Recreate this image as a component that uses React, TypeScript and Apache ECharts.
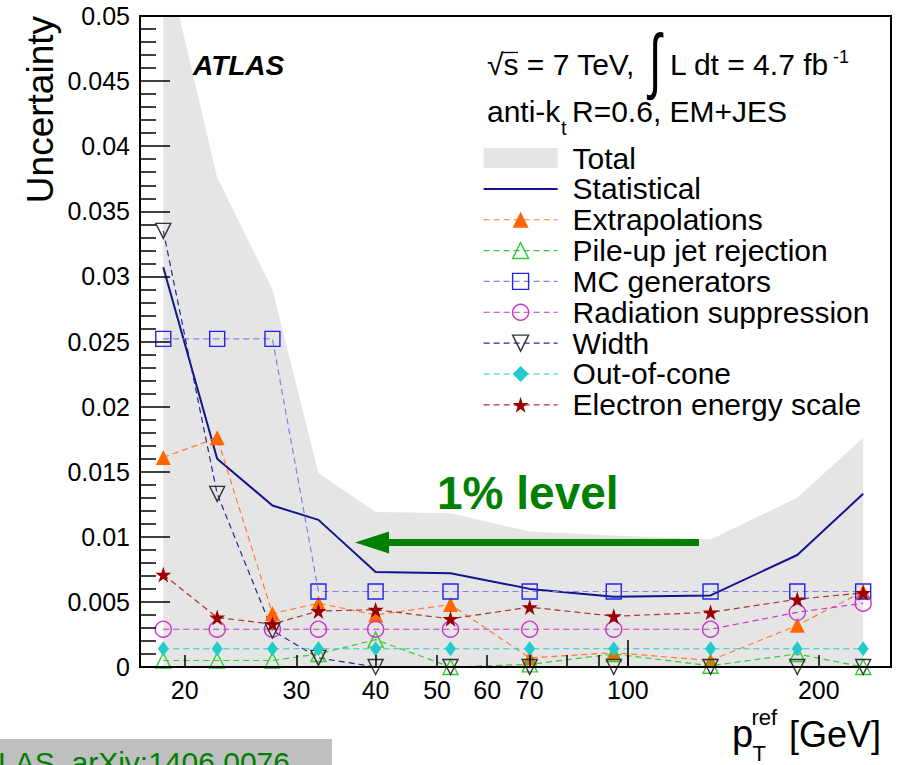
import React, { useEffect, useRef } from 'react';
import * as echarts from 'echarts';

const FONT = '"Liberation Sans", Arial, Helvetica, sans-serif';

// Reference-pT bin centres [GeV]
const ptBinCentres = [18.5, 22.5, 27.5, 32.5, 40, 52.5, 70, 95, 135, 185, 235];

// Uncertainty components (relative)
const totalUnc = [0.0552, 0.0376, 0.029, 0.0149, 0.0119, 0.0118, 0.0104, 0.0101, 0.0098, 0.013, 0.0176];
const statisticalUnc = [0.0307, 0.016, 0.0124, 0.0113, 0.0073, 0.0072, 0.006, 0.0054, 0.0055, 0.0086, 0.0133];
const extrapolationsUnc = [0.0161, 0.0176, 0.0041, 0.0049, 0.004, 0.0048, 0.0007, 0.0011, 0.0005, 0.0032, 0.0058];
const pileUpUnc = [0.0005, 0.0005, 0.0005, 0.001, 0.0021, 0.0, 0.0002, 0.001, 0.0001, 0.001, 0.0];
const mcGeneratorsUnc = [0.0252, 0.0252, 0.0252, 0.0058, 0.0058, 0.0058, 0.0058, 0.0058, 0.0058, 0.0058, 0.0058];
const radiationUnc = [0.0029, 0.0029, 0.0029, 0.0029, 0.0029, 0.0029, 0.0029, 0.0029, 0.0029, 0.0042, 0.0049];
const widthUnc = [0.0335, 0.0133, 0.0028, 0.0007, 0.0, 0.0, 0.0, 0.0, 0.0, 0.0, 0.0];
const outOfConeUnc = [0.0014, 0.0014, 0.0014, 0.0014, 0.0014, 0.0014, 0.0014, 0.0014, 0.0014, 0.0014, 0.0014];
const electronScaleUnc = [0.0071, 0.0038, 0.0033, 0.0043, 0.0044, 0.0037, 0.0046, 0.0039, 0.0042, 0.0052, 0.0057];

// Axis ticks / labels
const xTickValues = [20, 30, 40, 50, 60, 70, 80, 90, 100, 200];
const xLabelValues = [20, 30, 40, 50, 60, 70, 100, 200];
const xLongTickValues = [100];

const STAR = 'path://M50,2 L61.2,36.5 L97.6,36.5 L68.2,57.9 L79.4,92.5 L50,71.1 L20.6,92.5 L31.8,57.9 L2.4,36.5 L38.8,36.5 Z';

const toPoints = (vals: number[]) => ptBinCentres.map((x, i) => [x, vals[i]]);

function markerSeries(
  name: string,
  vals: number[],
  color: string,
  lineColor: string,
  symbol: string,
  size: number | number[],
  filled: boolean,
  rotate = 0,
) {
  return {
    name,
    type: 'line',
    data: toPoints(vals),
    symbol,
    symbolSize: size,
    symbolRotate: rotate,
    showAllSymbol: true,
    lineStyle: { color: lineColor, width: 1.2, type: [6, 4] },
    itemStyle: filled
      ? { color, borderWidth: 0 }
      : { color: 'transparent', borderColor: color, borderWidth: 1.4 },
    emphasis: { disabled: true },
    z: 3,
  };
}

const option: any = {
  animation: false,
  backgroundColor: '#fff',
  textStyle: { fontFamily: FONT },
  grid: {
    left: 140,
    right: 12,
    top: 16,
    bottom: 98,
    show: true,
    borderColor: '#000',
    borderWidth: 2,
    backgroundColor: 'transparent',
    z: 5,
  },
  legend: {
    orient: 'vertical',
    left: 483,
    top: 142.6,
    padding: 0,
    itemWidth: 74,
    itemHeight: 20,
    itemGap: 0,
    selectedMode: false,
    textStyle: { fontSize: 30, color: '#000', fontFamily: FONT, lineHeight: 30.85, padding: [0, 0, 0, 10] },
    lineStyle: { width: 1.2 },
    itemStyle: { borderWidth: 1.4 },
    data: [
      { name: 'Total', icon: 'rect', itemStyle: { borderWidth: 0 } },
      { name: 'Statistical', icon: 'path://M0,0H74V2H0Z', itemStyle: { borderWidth: 0 } },
      { name: 'Extrapolations' },
      { name: 'Pile-up jet rejection' },
      { name: 'MC generators' },
      { name: 'Radiation suppression' },
      { name: 'Width' },
      { name: 'Out-of-cone' },
      { name: 'Electron energy scale' },
    ],
  },
  xAxis: [
    {
      type: 'log',
      logBase: 10,
      min: 17,
      max: 260,
      z: 5,
      axisLine: { lineStyle: { color: '#000', width: 2 } },
      axisTick: { inside: true, length: 12, customValues: xTickValues, lineStyle: { color: '#000', width: 1.5 } },
      axisLabel: { customValues: xLabelValues, fontSize: 25, color: '#000', fontFamily: FONT, margin: 10 },
      minorTick: { show: false },
      splitLine: { show: false },
    },
    {
      type: 'log',
      logBase: 10,
      min: 17,
      max: 260,
      position: 'bottom',
      z: 5,
      axisLine: { show: false },
      axisTick: { inside: true, length: 27, customValues: xLongTickValues, lineStyle: { color: '#000', width: 1.5 } },
      axisLabel: { show: false },
      splitLine: { show: false },
    },
  ],
  yAxis: {
    type: 'value',
    min: 0,
    max: 0.05,
    interval: 0.005,
    z: 5,
    axisLine: { show: true, lineStyle: { color: '#000', width: 2 } },
    axisTick: { show: true, inside: true, length: 30, lineStyle: { color: '#000', width: 1.5 } },
    minorTick: { show: true, splitNumber: 5, length: 16, lineStyle: { color: '#000', width: 1.5 } },
    axisLabel: { fontSize: 25, color: '#000', fontFamily: FONT, margin: 10 },
    splitLine: { show: false },
    minorSplitLine: { show: false },
  },
  series: [
    {
      name: 'Total',
      type: 'line',
      data: toPoints(totalUnc),
      symbol: 'none',
      lineStyle: { width: 0, color: '#e5e5e5' },
      itemStyle: { color: '#e5e5e5' },
      areaStyle: { color: '#e5e5e5', opacity: 1 },
      emphasis: { disabled: true },
      z: 1,
    },
    {
      name: 'Statistical',
      type: 'line',
      data: toPoints(statisticalUnc),
      symbol: 'none',
      lineStyle: { width: 2, color: '#14148c' },
      itemStyle: { color: '#14148c' },
      emphasis: { disabled: true },
      z: 2,
    },
    markerSeries('Extrapolations', extrapolationsUnc, '#ff6600', '#ff7a33', 'triangle', 15, true),
    markerSeries('Pile-up jet rejection', pileUpUnc, '#33cc33', '#33cc33', 'triangle', 15, false),
    markerSeries('MC generators', mcGeneratorsUnc, '#2222ee', '#7f7fee', 'rect', 15, false),
    markerSeries('Radiation suppression', radiationUnc, '#cc33cc', '#cc33cc', 'circle', 16, false),
    markerSeries('Width', widthUnc, '#333333', '#2a2a90', 'triangle', 15, false, 180),
    markerSeries('Out-of-cone', outOfConeUnc, '#22cccc', '#22cccc', 'diamond', [11, 15], true),
    markerSeries('Electron energy scale', electronScaleUnc, '#990000', '#aa3333', STAR, 16, true),
  ],
  graphic: {
    elements: [
      {
        type: 'text', x: 193, y: 65, z: 10,
        style: { text: 'ATLAS', fontSize: 28, fontWeight: 'bold', fontStyle: 'italic', fontFamily: FONT, fill: '#000', align: 'left', verticalAlign: 'middle' },
      },
      {
        type: 'text', x: 487, y: 64.6, z: 10,
        style: { text: '√s = 7 TeV,', fontSize: 30, fontFamily: FONT, fill: '#000', align: 'left', verticalAlign: 'middle' },
      },
      {
        type: 'line', z: 10,
        shape: { x1: 502, y1: 52.5, x2: 518, y2: 52.5 },
        style: { stroke: '#000', lineWidth: 1.3 },
      },
      {
        type: 'text', x: 655, y: 60, z: 10, scaleX: 0.62,
        style: { text: '∫', fontSize: 72, fontFamily: FONT, fill: '#000', align: 'center', verticalAlign: 'middle' },
      },
      {
        type: 'text', x: 670, y: 64.6, z: 10,
        style: { text: 'L dt = 4.7 fb', fontSize: 30, fontFamily: FONT, fill: '#000', align: 'left', verticalAlign: 'middle' },
      },
      {
        type: 'text', x: 833, y: 57, z: 10,
        style: { text: '-1', fontSize: 18, fontFamily: FONT, fill: '#000', align: 'left', verticalAlign: 'middle' },
      },
      {
        type: 'text', x: 487, y: 111.6, z: 10,
        style: { text: 'anti-k', fontSize: 30, fontFamily: FONT, fill: '#000', align: 'left', verticalAlign: 'middle' },
      },
      {
        type: 'text', x: 561, y: 128, z: 10,
        style: { text: 't', fontSize: 20, fontFamily: FONT, fill: '#000', align: 'left', verticalAlign: 'middle' },
      },
      {
        type: 'text', x: 572, y: 111.6, z: 10,
        style: { text: 'R=0.6, EM+JES', fontSize: 30, fontFamily: FONT, fill: '#000', align: 'left', verticalAlign: 'middle' },
      },
      {
        type: 'text', x: 437, y: 493, z: 10,
        style: { text: '1% level', fontSize: 46, fontWeight: 'bold', fontFamily: FONT, fill: '#008000', align: 'left', verticalAlign: 'middle' },
      },
      {
        type: 'line', z: 10,
        shape: { x1: 386, y1: 542.5, x2: 699, y2: 542.5 },
        style: { stroke: '#008000', lineWidth: 7 },
      },
      {
        type: 'polygon', z: 10,
        shape: { points: [[355, 542.5], [389, 531.5], [389, 553.5]] },
        style: { fill: '#008000' },
      },
      {
        type: 'text', x: 40.2, y: 16, rotation: Math.PI / 2, z: 10,
        style: { text: 'Uncertainty', fontSize: 37, fontFamily: FONT, fill: '#000', align: 'right', verticalAlign: 'middle' },
      },
      {
        type: 'text', x: 732, y: 733.8, z: 10,
        style: { text: 'p', fontSize: 38, fontFamily: FONT, fill: '#000', align: 'left', verticalAlign: 'middle' },
      },
      {
        type: 'text', x: 751.5, y: 717.4, z: 10,
        style: { text: 'ref', fontSize: 22, fontFamily: FONT, fill: '#000', align: 'left', verticalAlign: 'middle' },
      },
      {
        type: 'text', x: 752.5, y: 753, z: 10,
        style: { text: 'T', fontSize: 22, fontFamily: FONT, fill: '#000', align: 'left', verticalAlign: 'middle' },
      },
      {
        type: 'text', x: 789, y: 734.5, z: 10,
        style: { text: '[GeV]', fontSize: 36, fontFamily: FONT, fill: '#000', align: 'left', verticalAlign: 'middle' },
      },
      {
        type: 'rect', z: 10,
        shape: { x: 0, y: 739, width: 332, height: 30 },
        style: { fill: '#bfbfbf' },
      },
      {
        type: 'text', x: -38, y: 762.5, z: 11,
        style: { text: 'ATLAS, arXiv:1406.0076', fontSize: 30, fontFamily: FONT, fill: '#008000', align: 'left', verticalAlign: 'middle' },
      },
    ],
  },
};

export default function App() {
  const ref = useRef<HTMLDivElement>(null);
  useEffect(() => {
    if (!ref.current) return;
    const chart = echarts.init(ref.current, null, { renderer: 'svg' });
    chart.setOption(option);
    return () => chart.dispose();
  }, []);
  return (
    <div
      ref={ref}
      style={{ position: 'absolute', left: 0, top: 0, width: 903, height: 765, overflow: 'hidden', background: '#fff' }}
    />
  );
}
